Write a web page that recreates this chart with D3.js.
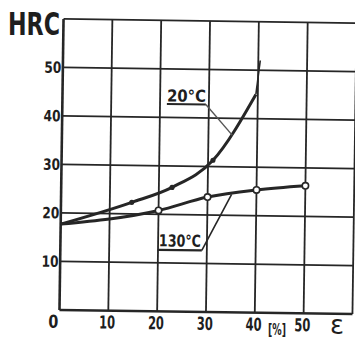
<!DOCTYPE html>
<html>
<head>
<meta charset="utf-8">
<script src="https://cdn.jsdelivr.net/npm/d3@7"></script>
<style>
  body { margin: 0; background: #fff; }
  svg { display: block; }
  text { font-family: 'Liberation Sans Narrow', 'DejaVu Sans Condensed', 'Arial Narrow', sans-serif; fill: #1e1e1e; font-weight: bold; }
</style>
</head>
<body>
<div id="chart"></div>
<script>
// tick values
const xTicks = [0, 10, 20, 30, 40, 50];
const yTicks = [10, 20, 30, 40, 50];

// 20°C curve (strain %, HRC)
const strain20 = [0, 14.5, 22.7, 31, 39.6, 40.4];
const hrc20 = [17.7, 22.4, 25.6, 31.3, 45, 52];
const marked20 = [1, 2, 3];

// 130°C curve
const strain130 = [0, 20, 30, 40, 50];
const hrc130 = [17.7, 20.8, 23.7, 25.3, 26.3];
const marked130 = [1, 2, 3, 4];

const width = 355, height = 341;
const ink = '#262626';

const svg = d3.select('#chart').append('svg')
    .attr('width', width)
    .attr('height', height);

svg.append('rect').attr('width', width).attr('height', height).attr('fill', '#fff');

const x = d3.scaleLinear().domain([0, 60]).range([61.5, 354.5]);
const y = d3.scaleLinear().domain([0, 60]).range([312, 21]);

// the scan is slightly rotated
const g = svg.append('g').attr('transform', 'rotate(0.8, 208, 166)');

// grid
const gridX = d3.range(10, 61, 10);
const gridY = d3.range(10, 61, 10);

g.selectAll('.vgrid')
    .data(gridX)
    .enter()
    .append('line')
    .attr('x1', d => x(d)).attr('x2', d => x(d))
    .attr('y1', y(0)).attr('y2', y(60))
    .attr('stroke', ink)
    .attr('stroke-width', 1.8);

g.selectAll('.hgrid')
    .data(gridY)
    .enter()
    .append('line')
    .attr('x1', x(0)).attr('x2', x(60))
    .attr('y1', d => y(d)).attr('y2', d => y(d))
    .attr('stroke', ink)
    .attr('stroke-width', 1.8);

// axes
g.append('line')
    .attr('x1', x(0)).attr('x2', x(0))
    .attr('y1', y(0)).attr('y2', y(60))
    .attr('stroke', ink).attr('stroke-width', 2.6);
g.append('line')
    .attr('x1', x(0)).attr('x2', x(60))
    .attr('y1', y(0)).attr('y2', y(0))
    .attr('stroke', ink).attr('stroke-width', 2.6);

// tick labels
g.selectAll('.ytick')
    .data(yTicks)
    .enter()
    .append('text')
    .attr('x', x(0) - 1.5)
    .attr('y', d => y(d) + 5.5)
    .attr('text-anchor', 'end')
    .attr('font-size', 15.5)
    .attr('textLength', 17)
    .attr('lengthAdjust', 'spacingAndGlyphs')
    .text(d => d);

g.selectAll('.xtick')
    .data(xTicks)
    .enter()
    .append('text')
    .attr('x', d => d === 0 ? x(d) - 6 : x(d) - 1)
    .attr('y', y(0) + 18)
    .attr('text-anchor', 'middle')
    .attr('font-size', 18)
    .attr('textLength', d => d === 0 ? 10 : 16)
    .attr('lengthAdjust', 'spacingAndGlyphs')
    .text(d => d);

// curves
const pts20 = strain20.map((s, i) => [s, hrc20[i]]);
const pts130 = strain130.map((s, i) => [s, hrc130[i]]);

const line = d3.line()
    .x(d => x(d[0]))
    .y(d => y(d[1]))
    .curve(d3.curveMonotoneX);

// main part of the 20°C curve, then its thin steep tail
g.append('path')
    .attr('d', line(pts20.slice(0, 5)))
    .attr('fill', 'none')
    .attr('stroke', ink)
    .attr('stroke-width', 3);

g.append('path')
    .attr('d', d3.line().x(d => x(d[0])).y(d => y(d[1]))(pts20.slice(4)))
    .attr('fill', 'none')
    .attr('stroke', ink)
    .attr('stroke-width', 1.6);

g.append('path')
    .attr('d', line(pts130))
    .attr('fill', 'none')
    .attr('stroke', ink)
    .attr('stroke-width', 3);

g.selectAll('.dot20')
    .data(marked20.map(i => pts20[i]))
    .enter()
    .append('circle')
    .attr('cx', d => x(d[0]))
    .attr('cy', d => y(d[1]))
    .attr('r', 2.6)
    .attr('fill', ink);

g.selectAll('.dot130')
    .data(marked130.map(i => pts130[i]))
    .enter()
    .append('circle')
    .attr('cx', d => x(d[0]))
    .attr('cy', d => y(d[1]))
    .attr('r', 3.2)
    .attr('fill', '#fff')
    .attr('stroke', ink)
    .attr('stroke-width', 1.6);

// curve labels with leaders
g.append('text')
    .attr('x', 166).attr('y', 102)
    .attr('font-size', 16.5)
    .attr('textLength', 39)
    .attr('lengthAdjust', 'spacingAndGlyphs')
    .text('20°C');
g.append('line')
    .attr('x1', 166).attr('x2', 205).attr('y1', 104.5).attr('y2', 104.5)
    .attr('stroke', ink).attr('stroke-width', 2);
g.append('line')
    .attr('x1', 205).attr('x2', 232).attr('y1', 104.5).attr('y2', 135)
    .attr('stroke', '#555').attr('stroke-width', 1.4);

g.append('text')
    .attr('x', 160).attr('y', 247)
    .attr('font-size', 16.5)
    .attr('textLength', 42)
    .attr('lengthAdjust', 'spacingAndGlyphs')
    .text('130°C');
g.append('line')
    .attr('x1', 159).attr('x2', 203).attr('y1', 250.5).attr('y2', 250.5)
    .attr('stroke', ink).attr('stroke-width', 2.2);
g.append('line')
    .attr('x1', 203).attr('x2', 232).attr('y1', 250.5).attr('y2', 194)
    .attr('stroke', ink).attr('stroke-width', 1.6);

// axis titles
svg.append('text')
    .attr('x', 8).attr('y', 35)
    .attr('font-size', 32)
    .attr('textLength', 52)
    .attr('lengthAdjust', 'spacingAndGlyphs')
    .text('HRC');

svg.append('text')
    .attr('x', 268).attr('y', 335)
    .attr('font-size', 15)
    .attr('textLength', 18)
    .attr('lengthAdjust', 'spacingAndGlyphs')
    .text('[%]');

svg.append('text')
    .attr('x', 330).attr('y', 334)
    .attr('font-size', 27)
    .attr('textLength', 14)
    .attr('lengthAdjust', 'spacingAndGlyphs')
    .style('font-weight', 'normal')
    .text('ε');
</script>
</body>
</html>
